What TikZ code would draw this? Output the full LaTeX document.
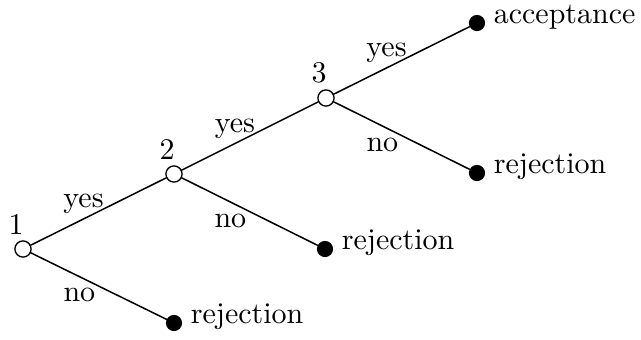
\documentclass[tikz,border=0pt]{standalone}
\usepackage{tikz}
\usetikzlibrary{positioning}
\tikzset{
    every picture/.style={line cap=round,line join=round},
    statenode/.style={draw=black,circle,fill=white,line width=0.45pt,
      minimum size=5.4pt,inner sep=0pt,outer sep=0pt},
    endnode/.style={circle,fill=black,minimum size=5.4pt,inner sep=0pt,outer sep=0pt},
    branch/.style={draw=black,line width=0.5pt},
    yeslabel/.style={above=0.5pt,inner sep=1pt,pos=0.39},
    nolabel/.style={below=2.6pt,inner sep=1pt,pos=0.36},
    outcome/.style={anchor=base west,inner sep=0pt,xshift=2.7pt},
    numlabel/.style={xshift=-2.3pt,inner sep=2pt}
}
\begin{document}
\begin{tikzpicture}[x=0.3333pt,y=-0.3333pt]
  \useasboundingbox (0,0) rectangle (641,340);
  % decision points
  \node[statenode,label={[numlabel]above:1}] (s1) at (23,249) {};
  \node[statenode,label={[numlabel]above:2}] (s2) at (174,174) {};
  \node[statenode,label={[numlabel]above:3}] (s3) at (326,98) {};
  % outcomes
  \node[endnode] (r1) at (174,323) {};
  \node[endnode] (r2) at (325,249) {};
  \node[endnode] (r3) at (477,173) {};
  \node[endnode] (acc) at (477,23) {};
  \node[outcome] (t1) at (r1.east) {rejection};
  \node[outcome] (t2) at (r2.east) {rejection};
  \node[outcome] (t3) at (r3.east) {rejection};
  \node[outcome] (t4) at (acc.east) {acceptance};
  % branches
  \draw[branch] (s1) -- node[yeslabel]{yes} (s2);
  \draw[branch] (s1) -- node[nolabel]{no} (r1);
  \draw[branch] (s2) -- node[yeslabel]{yes} (s3);
  \draw[branch] (s2) -- node[nolabel]{no} (r2);
  \draw[branch] (s3) -- node[yeslabel]{yes} (acc);
  \draw[branch] (s3) -- node[nolabel]{no} (r3);
\end{tikzpicture}
\end{document}
